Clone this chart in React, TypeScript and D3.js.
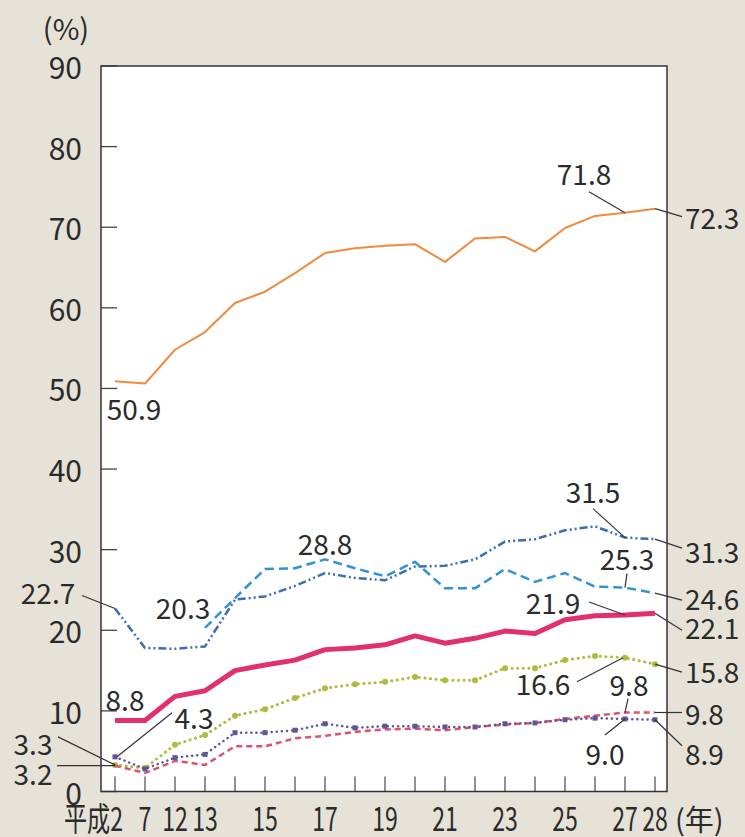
import React from "react";
import * as d3 from "d3";

// ---- data ----
const years = [2, 7, 12, 13, 14, 15, 16, 17, 18, 19, 20, 21, 22, 23, 24, 25, 26, 27, 28];
const shownYearLabels = [7, 12, 13, 15, 17, 19, 21, 23, 25, 27, 28];
const yTicks = [0, 10, 20, 30, 40, 50, 60, 70, 80, 90];

const orange = [50.9, 50.6, 54.8, 57.0, 60.6, 62.0, 64.3, 66.8, 67.4, 67.7, 67.9, 65.7, 68.6, 68.8, 67.0, 69.9, 71.4, 71.8, 72.3];
const darkBlue = [22.7, 17.8, 17.7, 18.0, 23.8, 24.2, 25.5, 27.1, 26.5, 26.2, 27.9, 28.0, 28.8, 31.0, 31.3, 32.4, 32.9, 31.5, 31.3];
const lightBlue = [null, null, null, 20.3, 24.0, 27.6, 27.7, 28.8, 27.7, 26.7, 28.5, 25.2, 25.2, 27.6, 26.0, 27.1, 25.4, 25.3, 24.6];
const magenta = [8.8, 8.8, 11.8, 12.5, 15.0, 15.7, 16.3, 17.6, 17.8, 18.2, 19.3, 18.4, 19.0, 19.9, 19.6, 21.3, 21.8, 21.9, 22.1];
const green = [3.3, 2.9, 5.8, 7.0, 9.4, 10.2, 11.6, 12.8, 13.3, 13.6, 14.2, 13.8, 13.8, 15.3, 15.3, 16.3, 16.8, 16.6, 15.8];
const pink = [3.2, 2.3, 3.8, 3.3, 5.6, 5.6, 6.6, 6.9, 7.4, 7.7, 7.8, 7.6, 8.0, 8.3, 8.5, 9.0, 9.4, 9.8, 9.8];
const purple = [4.3, 2.8, 4.2, 4.6, 7.3, 7.3, 7.6, 8.4, 7.9, 8.1, 8.1, 8.0, 8.0, 8.4, 8.5, 8.9, 9.1, 9.0, 8.9];

type Series = {
  key: string;
  values: (number | null)[];
  color: string;
  width: number;
  dash?: string;
  cap?: string;
  marker?: "circle" | "square";
};

const series: Series[] = [
  { key: "orange", values: orange, color: "#f08a3e", width: 2 },
  { key: "darkBlue", values: darkBlue, color: "#3a6db3", width: 2.5, dash: "8,3,2,3,2,3" },
  { key: "lightBlue", values: lightBlue, color: "#2f94d4", width: 2.5, dash: "9,5" },
  { key: "magenta", values: magenta, color: "#e2306e", width: 5 },
  { key: "green", values: green, color: "#a5bf3e", width: 3, dash: "0.1,5.5", cap: "round", marker: "circle" },
  { key: "pink", values: pink, color: "#e24f6e", width: 2.5, dash: "6,4" },
  { key: "purple", values: purple, color: "#5f5697", width: 2.5, dash: "0.1,5", cap: "round", marker: "square" },
];

// annotation layout: offsets from the data point
type Ann = { s: string; i: number; dx: number; dy: number; anchor: string; leader?: number[] };
const annotations: Ann[] = [
  { s: "orange", i: 0, dx: 19, dy: 27, anchor: "middle" },
  { s: "orange", i: 17, dx: -41, dy: -40, anchor: "middle", leader: [0, 0, -36, -21] },
  { s: "orange", i: 18, dx: 30, dy: 8, anchor: "start", leader: [0, 0, 27, 8] },
  { s: "darkBlue", i: 0, dx: -67, dy: -17, anchor: "middle", leader: [0, 0, -33, -13] },
  { s: "darkBlue", i: 17, dx: -32, dy: -47, anchor: "middle", leader: [0, 0, -32, -29] },
  { s: "darkBlue", i: 18, dx: 30, dy: 12, anchor: "start", leader: [0, 0, 27, 9] },
  { s: "lightBlue", i: 3, dx: -22, dy: -21, anchor: "middle" },
  { s: "lightBlue", i: 7, dx: 0, dy: -16, anchor: "middle" },
  { s: "lightBlue", i: 17, dx: 2, dy: -30, anchor: "middle", leader: [0, 0, 2, -14] },
  { s: "lightBlue", i: 18, dx: 30, dy: 5, anchor: "start", leader: [0, 0, 27, 7] },
  { s: "magenta", i: 0, dx: 10, dy: -22, anchor: "middle" },
  { s: "magenta", i: 17, dx: -72, dy: -13, anchor: "middle", leader: [0, 0, -36, -13] },
  { s: "magenta", i: 18, dx: 30, dy: 14, anchor: "start", leader: [0, 0, 27, 17] },
  { s: "green", i: 0, dx: -82, dy: -22, anchor: "middle", leader: [0, 0, -57, -28] },
  { s: "green", i: 17, dx: -82, dy: 25, anchor: "middle", leader: [-2, 0, -48, 24] },
  { s: "green", i: 18, dx: 30, dy: 7, anchor: "start", leader: [0, 0, 27, 8] },
  { s: "pink", i: 0, dx: -82, dy: 7, anchor: "middle", leader: [0, 0, -58, 0] },
  { s: "pink", i: 17, dx: 4, dy: -29, anchor: "middle", leader: [0, 0, 3, -14] },
  { s: "pink", i: 18, dx: 30, dy: 0, anchor: "start", leader: [0, 0, 27, 0] },
  { s: "purple", i: 0, dx: 79, dy: -40, anchor: "middle", leader: [2, 0, 57, -44] },
  { s: "purple", i: 17, dx: -20, dy: 34, anchor: "middle", leader: [0, 0, -20, 16] },
  { s: "purple", i: 18, dx: 30, dy: 33, anchor: "start", leader: [0, 0, 27, 26] },
];

const W = 745;
const H = 837;
const plot = { left: 101, right: 667, top: 66, bottom: 791.5 };
const FONT = "'Noto Sans CJK JP', 'Noto Sans', sans-serif";
const TEXT = "#2b2b2b";
const XLABEL_BASE = 831;

export default function App() {
  const x = d3.scalePoint<number>().domain(years).range([115, 655]).padding(0);
  const y = d3.scaleLinear().domain([0, 90]).range([plot.bottom, plot.top]);

  const line = d3
    .line<number | null>()
    .defined((d) => d !== null)
    .x((_, i) => x(years[i]) as number)
    .y((d) => y(d as number));

  const byKey: Record<string, Series> = {};
  series.forEach((s) => (byKey[s.key] = s));

  return (
    <svg
      width={W}
      height={H}
      style={{ position: "absolute", left: 0, top: 0, display: "block" }}
      fontFamily={FONT}
    >
      <rect x={0} y={0} width={W} height={H} fill="#e6e2d8" />
      <rect
        x={plot.left}
        y={plot.top}
        width={plot.right - plot.left}
        height={plot.bottom - plot.top}
        fill="#ffffff"
      />

      {/* y ticks */}
      {yTicks.map((t) => (
        <g key={"yt" + t}>
          <line x1={plot.left} x2={plot.left + 16} y1={y(t)} y2={y(t)} stroke="#444" strokeWidth={1.3} />
          <text
            x={82}
            y={y(t)}
            textAnchor="end"
            dominantBaseline="central"
            fontSize={30}
            fill={TEXT}
          >
            {t}
          </text>
        </g>
      ))}
      <text x={66} y={27} textAnchor="middle" dominantBaseline="central" fontSize={29} fill={TEXT}>
        (%)
      </text>

      {/* x ticks */}
      {years.map((yr) => (
        <line
          key={"xt" + yr}
          x1={x(yr)}
          x2={x(yr)}
          y1={plot.bottom}
          y2={plot.bottom - 15}
          stroke="#555"
          strokeWidth={1.3}
        />
      ))}
      {shownYearLabels.map((yr) => (
        <text
          key={"xl" + yr}
          transform={`translate(${x(yr)},${XLABEL_BASE}) scale(0.7,1)`}
          textAnchor="middle"
          fontSize={33}
          fill={TEXT}
        >
          {yr}
        </text>
      ))}
      <text
        transform={`translate(${(x(years[0]) as number) + 8},${XLABEL_BASE}) scale(0.7,1)`}
        textAnchor="end"
        fontSize={33}
        fill={TEXT}
      >
        {"平成" + years[0]}
      </text>
      <text x={675} y={XLABEL_BASE} fontSize={29} fill={TEXT}>
        (年)
      </text>

      {/* series */}
      {series.map((s) => (
        <g key={s.key}>
          <path
            d={line(s.values) || ""}
            fill="none"
            stroke={s.color}
            strokeWidth={s.width}
            strokeDasharray={s.dash}
            strokeLinecap={(s.cap as any) || "butt"}
            strokeLinejoin="round"
          />
          {s.marker &&
            s.values.map((v, i) =>
              v === null ? null : s.marker === "circle" ? (
                <circle key={i} cx={x(years[i])} cy={y(v)} r={3} fill={s.color} />
              ) : (
                <rect
                  key={i}
                  x={(x(years[i]) as number) - 2.5}
                  y={y(v) - 2.5}
                  width={5}
                  height={5}
                  fill={s.color}
                />
              )
            )}
        </g>
      ))}

      {/* frame */}
      <rect
        x={plot.left}
        y={plot.top}
        width={plot.right - plot.left}
        height={plot.bottom - plot.top}
        fill="none"
        stroke="#333"
        strokeWidth={1.5}
      />

      {/* annotations */}
      {annotations.map((a, k) => {
        const s = byKey[a.s];
        const v = s.values[a.i] as number;
        const px = x(years[a.i]) as number;
        const py = y(v);
        return (
          <g key={"a" + k}>
            {a.leader && (
              <line
                x1={px + a.leader[0]}
                y1={py + a.leader[1]}
                x2={px + a.leader[2]}
                y2={py + a.leader[3]}
                stroke="#333"
                strokeWidth={1.2}
              />
            )}
            <text
              x={px + a.dx}
              y={py + a.dy}
              textAnchor={a.anchor as any}
              dominantBaseline="central"
              fontSize={28}
              fill={TEXT}
            >
              {v.toFixed(1)}
            </text>
          </g>
        );
      })}
    </svg>
  );
}
